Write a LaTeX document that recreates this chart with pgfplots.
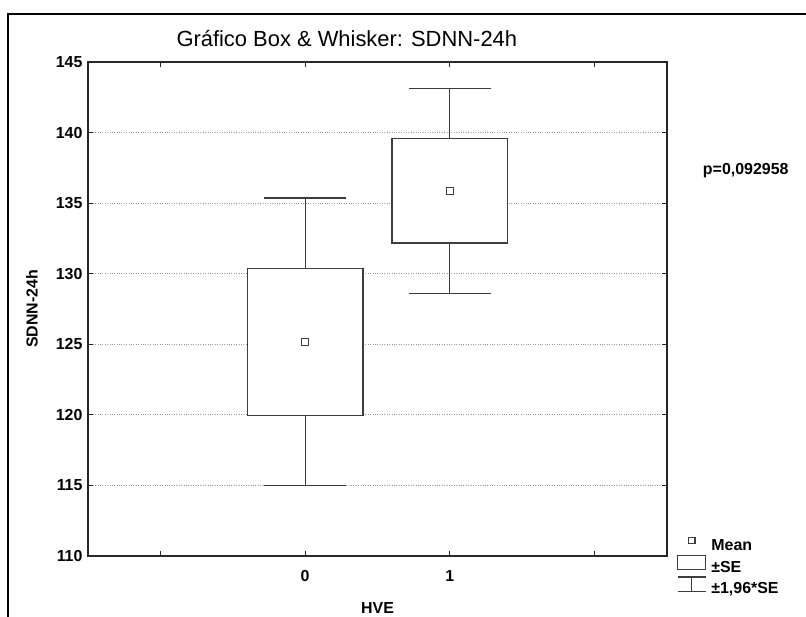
\documentclass[border=0pt]{standalone}
\usepackage{fontspec}
\setmainfont{Liberation Sans}
\usepackage{pgfplots}
\pgfplotsset{compat=1.18}
\usetikzlibrary{calc}
\definecolor{boxcol}{HTML}{3C3C3C}
\begin{document}
\begin{tikzpicture}
\begin{axis}[name=ax, scale only axis, width=579bp, height=494bp,
  xmin=-1.5, xmax=2.5, ymin=110, ymax=145,
  xtick={-1,0,1,2}, xticklabels={,0,1,},
  ytick={110,115,...,145},
  tick align=inside, tick pos=both, major tick length=5bp,
  ymajorgrids, grid style={dotted, black!40, line width=0.8bp},
  axis line style={line width=1.2bp, black!85},
  tick style={black!85, line width=1bp},
  ticklabel style={font=\bfseries\fontsize{16}{18}\selectfont},
  /pgf/number format/assume math mode=true,
  xticklabel style={yshift=-11bp},
  yticklabel style={xshift=-2bp},
  xlabel={HVE}, ylabel={SDNN-24h},
  xlabel style={font=\bfseries\fontsize{16}{18}\selectfont, at={(axis description cs:0.5,-0.106)}, anchor=center},
  ylabel style={font=\bfseries\fontsize{16}{18}\selectfont, at={(axis description cs:-0.0967,0.5)}, anchor=center},
  title={Gráfico Box \& Whisker: SDNN-24h},
  title style={font=\fontsize{22}{24}\selectfont, at={(axis description cs:0.447,1.036)}, anchor=center},
  clip=false,
  legend style={at={(axis description cs:1.0172,0.05)}, anchor=north west, draw=none, fill=none,
    font=\bfseries\fontsize{16}{18}\selectfont, row sep=1.5bp, inner sep=0pt,
    nodes={inner xsep=5bp, inner ysep=0pt}},
  legend cell align=left,
  every axis plot/.append style={line width=1.2bp, boxcol},
]
% group 0: mean 125.17, SE 5.20, 1.96*SE 10.20
\addplot[forget plot] coordinates {(0,119.97) (0,114.97)};
\addplot[forget plot] coordinates {(-0.2825,114.97) (0.2825,114.97)};
\addplot[forget plot] coordinates {(0,130.37) (0,135.37)};
\addplot[forget plot] coordinates {(-0.2825,135.37) (0.2825,135.37)};
\addplot[forget plot, fill=white] coordinates {(-0.4,119.97) (0.4,119.97) (0.4,130.37) (-0.4,130.37)} -- cycle;
% group 1: mean 135.87, SE 3.70, 1.96*SE 7.25
\addplot[forget plot] coordinates {(1,132.17) (1,128.62)};
\addplot[forget plot] coordinates {(0.7175,128.62) (1.2825,128.62)};
\addplot[forget plot] coordinates {(1,139.57) (1,143.12)};
\addplot[forget plot] coordinates {(0.7175,143.12) (1.2825,143.12)};
\addplot[forget plot, fill=white] coordinates {(0.6,132.17) (1.4,132.17) (1.4,139.57) (0.6,139.57)} -- cycle;
% means
\addplot[forget plot, only marks, mark=square*, mark size=3.5bp, mark options={line width=1.2bp, draw=boxcol, fill=white}] coordinates {(0,125.17) (1,135.87)};

\addlegendimage{legend image code/.code={\path[draw=none,fill=none] (0,-4bp) rectangle (28bp,14bp); \draw[boxcol, line width=1.2bp, fill=white] (10.8bp,1.8bp) rectangle (17.2bp,8.2bp);}}
\addlegendentry{Mean}
\addlegendimage{legend image code/.code={\path[draw=none,fill=none] (0,-4bp) rectangle (28bp,14bp); \draw[boxcol, line width=1.2bp, fill=none] (0,-2bp) rectangle (28bp,12bp);}}
\addlegendentry{±SE}
\addlegendimage{legend image code/.code={\path[draw=none,fill=none] (0,-4bp) rectangle (28bp,14bp); \draw[boxcol, line width=1.2bp, fill=none] (0,12bp) -- (28bp,12bp) (14bp,12bp) -- (14bp,-2.5bp) (0,-2.5bp) -- (28bp,-2.5bp);}}
\addlegendentry{±1,96*SE}

\node[font=\bfseries\fontsize{16}{18}\selectfont] at (axis description cs:1.136,0.781) {p=0,092958};
\end{axis}
\draw[line width=1.8bp, black] ($(ax.south west)+(-80bp,-61bp)$) -- ($(ax.north west)+(-80bp,48bp)$) -- ($(ax.north east)+(139bp,48bp)$);
\pgfresetboundingbox
\path[use as bounding box] ($(ax.south west)+(-88bp,-61bp)$) rectangle ($(ax.north east)+(139bp,62bp)$);
\end{tikzpicture}
\end{document}
